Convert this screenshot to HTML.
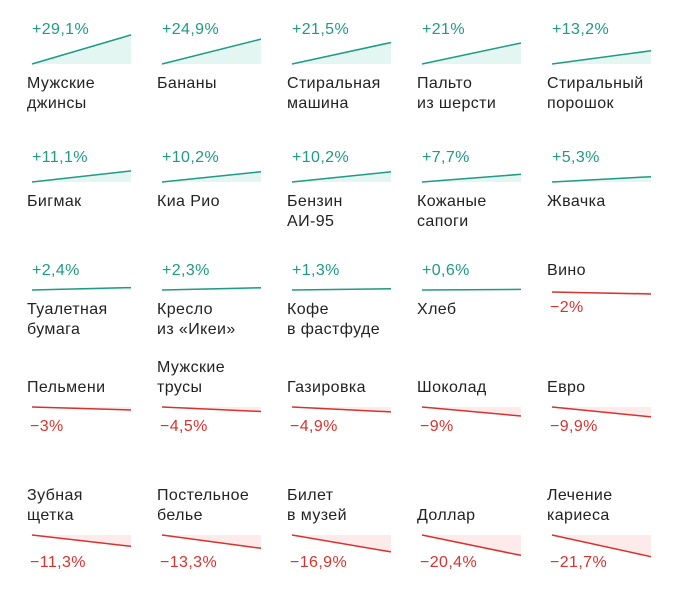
<!DOCTYPE html>
<html><head><meta charset="utf-8"><style>
body{margin:0;background:#fff;}
svg{display:block;font-family:"Liberation Sans","DejaVu Sans",sans-serif;}
</style></head><body>
<svg id="c" width="685" height="604"></svg>
<script>
const names=["Мужские\nджинсы","Бананы","Стиральная\nмашина","Пальто\nиз шерсти","Стиральный\nпорошок",
"Бигмак","Киа Рио","Бензин\nАИ-95","Кожаные\nсапоги","Жвачка",
"Туалетная\nбумага","Кресло\nиз «Икеи»","Кофе\nв фастфуде","Хлеб","Вино",
"Пельмени","Мужские\nтрусы","Газировка","Шоколад","Евро",
"Зубная\nщетка","Постельное\nбелье","Билет\nв музей","Доллар","Лечение\nкариеса"];
const values=[29.1,24.9,21.5,21,13.2,11.1,10.2,10.2,7.7,5.3,2.4,2.3,1.3,0.6,-2,-3,-4.5,-4.9,-9,-9.9,-11.3,-13.3,-16.9,-20.4,-21.7];
const colX=[27,157,287,417,547];
const posBase=[64,182,290], posPct=[30,158,271];
const negBase=[0,0,292,407,535];
const NS="http://www.w3.org/2000/svg";
const svg=document.getElementById('c');
const yScale=v=>Math.abs(v)*1.0;
function mk(t,a){const e=document.createElementNS(NS,t);for(const k in a)e.setAttribute(k,a[k]);svg.appendChild(e);return e;}
function fmt(v){return (v>0?"+":"−")+String(Math.abs(v)).replace(".",",")+"%";}
function txt(x,y,s,fill,name){const e=mk('text',{x:x,y:y,'font-size':16,'letter-spacing':0.4,fill:fill,'dominant-baseline':'middle'});e.textContent=s;

return e;}
values.forEach((v,i)=>{
  const r=Math.floor(i/5),c=i%5,x=colX[c];
  const x0=x+5,x1=x+104;
  const lines=names[i].split("\n");
  if(v>=0){
    const b=posBase[r],top=b-yScale(v);
    const f=mk('polygon',{points:`${x0},${b} ${x1},${top} ${x1},${b}`,fill:'#e3f6f1'});
    
    
    const l=mk('line',{x1:x0,y1:b,x2:x1,y2:top,stroke:'#1e9a86','stroke-width':1.5});
    
    
    txt(x+5,posPct[r],fmt(v),'#1e9a86','change-label');
    lines.forEach((s,k)=>txt(x,b+20+k*20,s,'#222','item-name'));
  }else{
    const b=negBase[r],bot=b+yScale(v);
    const f=mk('polygon',{points:`${x0},${b} ${x1},${bot} ${x1},${b}`,fill:'#fdeaea'});
    
    
    const l=mk('line',{x1:x0,y1:b,x2:x1,y2:bot,stroke:'#d8322e','stroke-width':1.5});
    
    
    const n=lines.length;
    lines.forEach((s,k)=>txt(x,b-(r===2?21:19)-(n-1-k)*20,s,'#222','item-name'));
    txt(x+3,b+(r===2?16:r===3?20:28),fmt(v),'#d8322e','change-label');
  }
});
</script>
</body></html>
